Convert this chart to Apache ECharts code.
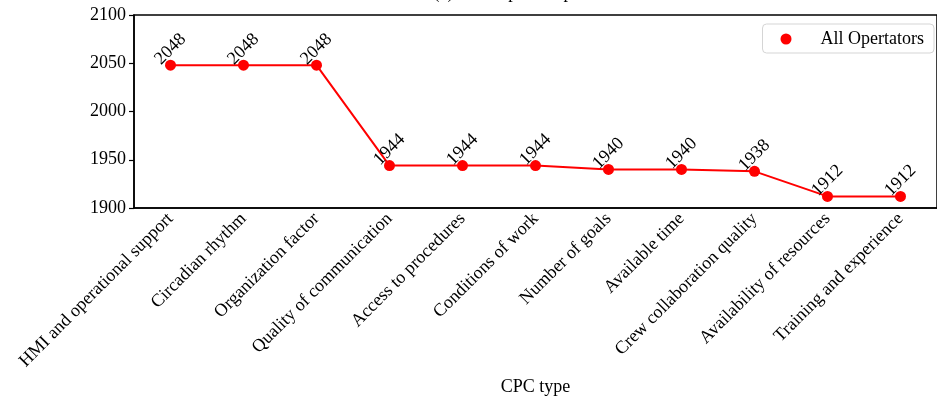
<!DOCTYPE html>
<html>
<head>
<meta charset="utf-8">
<script src="https://cdn.jsdelivr.net/npm/echarts@6/dist/echarts.min.js"></script>
<style>html,body{margin:0;padding:0;background:#fff;}#c{width:937px;height:403px;}</style>
</head>
<body>
<div id="c"></div>
<script>
const categories = ["HMI and operational support","Circadian rhythm","Organization factor","Quality of communication","Access to procedures","Conditions of work","Number of goals","Available time","Crew collaboration quality","Availability of resources","Training and experience"];
const values = [2048,2048,2048,1944,1944,1944,1940,1940,1938,1912,1912];
const yTicks = [1900,1950,2000,2050,2100];
const seriesName = "All Opertators";
const titleText = "(c) Total operator performance";

const F = "Liberation Serif";
const chart = echarts.init(document.getElementById('c'), null, {renderer:'canvas'});
chart.setOption({
  animation:false,
  backgroundColor:'#fff',
  textStyle:{fontFamily:F},
  title:{text:titleText,left:539,textAlign:'center',top:-21,textStyle:{fontFamily:F,fontSize:18,fontWeight:'normal',color:'#000'}},
  legend:{
    data:[{name:seriesName,icon:'circle'}],
    right:3, top:24, orient:'vertical',
    itemWidth:11,itemHeight:11,itemGap:4,
    padding:[6,10,5,18],
    borderColor:'#d5d5d5',borderWidth:1,borderRadius:4,
    textStyle:{fontFamily:F,fontSize:18,color:'#000',padding:[0,0,0,24]}
  },
  grid:{left:134,top:15,width:810,height:193,show:true,borderColor:'#000',borderWidth:1.5,backgroundColor:'transparent'},
  xAxis:{
    type:'category',data:categories,boundaryGap:true,
    name:'CPC type',nameLocation:'middle',nameGap:170,
    nameTextStyle:{fontFamily:F,fontSize:18,color:'#000'},
    axisLine:{lineStyle:{color:'#000',width:1.5}},
    axisTick:{alignWithLabel:true,length:5,lineStyle:{color:'#000',width:1.2}},
    axisLabel:{rotate:45,margin:8,fontFamily:F,fontSize:18,color:'#000',interval:0},
    splitLine:{show:false}
  },
  yAxis:{
    type:'value',min:yTicks[0],max:yTicks[yTicks.length-1],interval:50,
    axisLine:{show:true,lineStyle:{color:'#000',width:1.5}},
    axisTick:{show:true,length:5,lineStyle:{color:'#000',width:1.2}},
    axisLabel:{margin:8,fontFamily:F,fontSize:18,color:'#000',formatter:function(v){return String(v);}},
    splitLine:{show:false}
  },
  series:[{
    name:seriesName,type:'line',data:values,
    symbol:'circle',symbolSize:11,
    itemStyle:{color:'#ff0000'},
    lineStyle:{color:'#ff0000',width:2},
    label:{show:true,position:'top',distance:0,rotate:45,align:'center',verticalAlign:'middle',offset:[7.4,-7.4],
      fontFamily:F,fontSize:18,color:'#000'}
  }]
});
</script>
</body>
</html>
